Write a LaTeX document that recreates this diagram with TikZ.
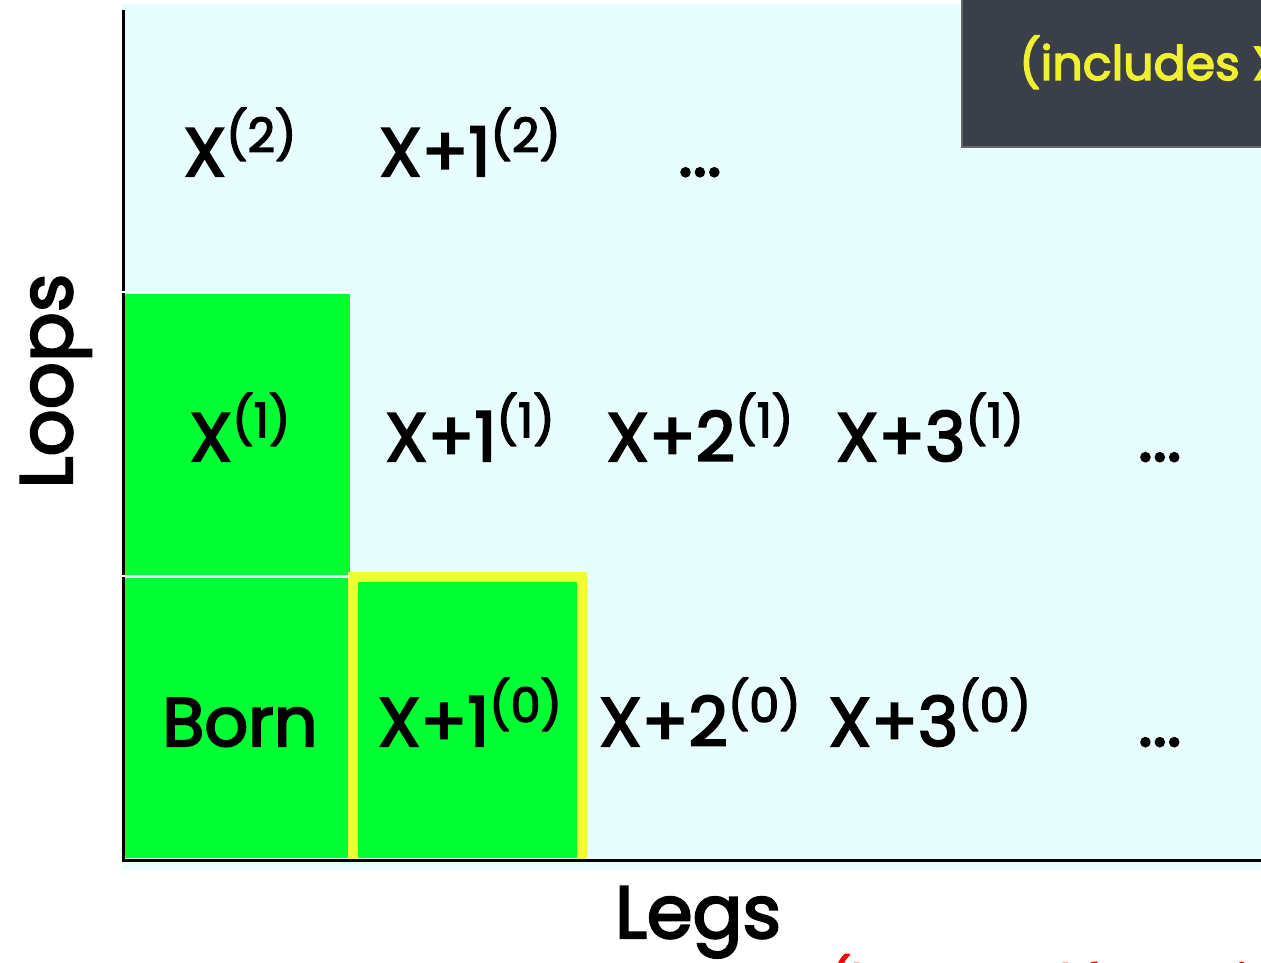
\documentclass[tikz,border=0pt]{standalone}
\usepackage{fontspec}
\setmainfont{Poppins}[FakeBold=3]
\usetikzlibrary{matrix}

\definecolor{plotbg}{HTML}{E8FEFE}
\definecolor{cellgreen}{HTML}{00FF33}
\definecolor{hiyellow}{HTML}{EEFF33}
\definecolor{slate}{HTML}{3B3F49}
\definecolor{noteyellow}{HTML}{F0F030}

% order label: multiplicity with the loop count as superscript
\newcommand{\nlo}[2]{#1\raisebox{.35em}{\fontsize{27}{30}\selectfont(#2)}}

\begin{document}
\begin{tikzpicture}[x=0.02cm,y=-0.02cm,
  axis/.style={line width=0.06cm},
  cell/.style={font=\fontsize{39}{44}\selectfont, anchor=base},
  big/.style={font=\fontsize{42}{48}\selectfont}]
  \useasboundingbox (0,0) rectangle (1261,963);
  \clip (0,0) rectangle (1261,963);
  % background and filled cells
  \fill[plotbg] (122,4) rectangle (1261,870);
  \fill[cellgreen] (124,294) rectangle (350,575);
  \fill[cellgreen] (124,578) rectangle (348,858);
  \fill[cellgreen] (353,577) rectangle (582,858);
  \draw[hiyellow,line width=0.2cm] (353,860) |- (582,577) -- (582,860);
  % axes
  \draw[axis] (123,10) -- (123,860);
  \draw[white,line width=0.05cm] (119,292) -- (350,292);
  \draw[white,line width=0.04cm] (119,576) -- (350,576);
  \draw[axis] (122,860) -- (1261,860);
  % note box in the corner
  \filldraw[fill=slate,draw=gray!60!slate,line width=0.03cm] (962,-10) rectangle (1275,147);
  \node[anchor=base west,text=noteyellow,font=\fontsize{27}{30}\selectfont] (note) at (1013,80) {(includes X};
  % grid of orders
  \matrix (M)[matrix of nodes, nodes={cell},
    column sep={4.6cm,between origins},
    row sep={5.7cm,between origins},
    matrix anchor=M-3-1.base] at (240,746)
  {\nlo{X}{2} & \nlo{X+1}{2} & ...          &              &     \\
   \nlo{X}{1} & \nlo{X+1}{1} & \nlo{X+2}{1} & \nlo{X+3}{1} & ... \\
   Born       & \nlo{X+1}{0} & \nlo{X+2}{0} & \nlo{X+3}{0} & ... \\
  };
  % axis labels
  \node[big,rotate=90,anchor=base] (loops) at (72,381) {Loops};
  \node[big,anchor=base] (legs) at (698,938) {Legs};
  \node[anchor=base west,text=red,font=\fontsize{26}{30}\selectfont] (credit) at (824,997) {(borrowed from Dixon)};
\end{tikzpicture}
\end{document}
